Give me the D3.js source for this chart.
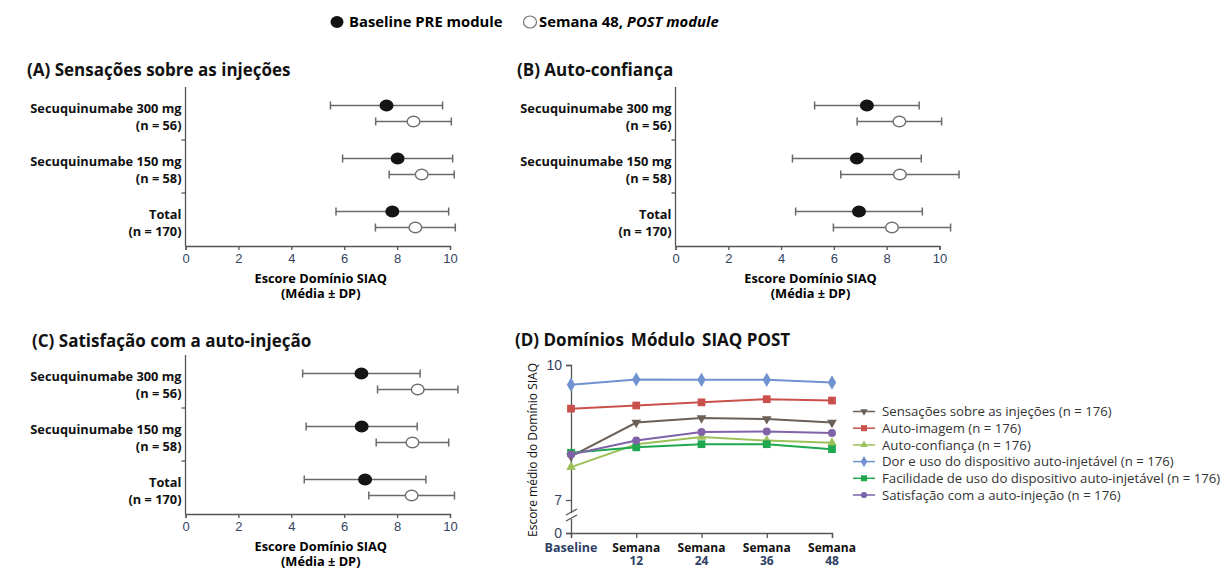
<!DOCTYPE html>
<html>
<head>
<meta charset="utf-8">
<script src="https://cdnjs.cloudflare.com/ajax/libs/d3/7.8.5/d3.min.js"></script>
<style>
    body { margin: 0; background: #fff; }
    svg { display: block; font-family: "Open Sans", Lato, sans-serif; }
    .ptitle { font-size: 17px; font-weight: bold; fill: #111; }
    .glabel { font-size: 12.8px; font-weight: bold; fill: #111; }
    .tick text { font-family: "Liberation Sans", Arial, sans-serif; font-size: 13px; fill: #34435f; }
    .domain, .tick line { stroke: #555; stroke-width: 1.3; }
</style>
</head>
<body>
<div id="chart"></div>
<script>
'use strict';
//row labels shared by panels A-C
const groups = ["Secuquinumabe 300 mg", "Secuquinumabe 150 mg", "Total"];
const groupN = ["(n = 56)", "(n = 58)", "(n = 170)"];
const xTicks = [0, 2, 4, 6, 8, 10];

//panel A - Sensações sobre as injeções (mean and SD)
const aPreMean = [7.6, 8.02, 7.82];
const aPreSd = [2.12, 2.08, 2.13];
const aPostMean = [8.62, 8.93, 8.69];
const aPostSd = [1.43, 1.23, 1.51];
//panel B - Auto-confiança
const bPreMean = [7.25, 6.87, 6.95];
const bPreSd = [1.98, 2.44, 2.4];
const bPostMean = [8.48, 8.5, 8.2];
const bPostSd = [1.6, 2.24, 2.22];
//panel C - Satisfação com a auto-injeção
const cPreMean = [6.65, 6.66, 6.79];
const cPreSd = [2.22, 2.1, 2.3];
const cPostMean = [8.78, 8.58, 8.55];
const cPostSd = [1.52, 1.37, 1.62];

//panel D - POST module domains over time
const visits = ["Baseline", "Semana 12", "Semana 24", "Semana 36", "Semana 48"];
const domainNames = [
    "Sensações sobre as injeções (n = 176)",
    "Auto-imagem (n = 176)",
    "Auto-confiança (n = 176)",
    "Dor e uso do dispositivo auto-injetável (n = 176)",
    "Facilidade de uso do dispositivo auto-injetável (n = 176)",
    "Satisfação com a auto-injeção (n = 176)"
];
const sensacoes = [7.97, 8.72, 8.82, 8.8, 8.72];
const autoImagem = [9.03, 9.1, 9.17, 9.24, 9.21];
const autoConfianca = [7.73, 8.24, 8.4, 8.32, 8.27];
const dorUso = [9.56, 9.68, 9.67, 9.67, 9.61];
const facilidade = [8.05, 8.17, 8.24, 8.24, 8.13];
const satisfacao = [8.01, 8.32, 8.51, 8.52, 8.49];
const dTicks = [0, 7, 10];

const width = 1232;
const height = 569;

const svg = d3.select("#chart").append("svg")
    .attr("width", width)
    .attr("height", height);

//legend at the top
svg.append("ellipse").attr("cx", 337).attr("cy", 22).attr("rx", 6.5).attr("ry", 6).attr("fill", "#111");
svg.append("text").attr("x", 349).attr("y", 22).attr("dy", "0.35em")
    .style("font-size", "14.8px").style("font-weight", "bold").text("Baseline PRE module");
svg.append("ellipse").attr("cx", 530).attr("cy", 22).attr("rx", 6.5).attr("ry", 6)
    .attr("fill", "#fff").attr("stroke", "#777").attr("stroke-width", 1.2);
const leg2 = svg.append("text").attr("x", 539).attr("y", 22).attr("dy", "0.35em")
    .style("font-size", "14.8px").style("font-weight", "bold");
leg2.append("tspan").text("Semana 48, ");
leg2.append("tspan").style("font-style", "italic").text("POST module");

//one forest-plot panel (mean ± SD for PRE and POST)
function forestPanel(o) {
    const x = d3.scaleLinear().domain([0, 10]).range([o.x0, o.x1]);
    const y = d3.scaleBand().domain(groups).range([o.y0, o.y1]);
    const g = svg.append("g");

    g.append("text").attr("class", "ptitle")
        .attr("x", o.titleX).attr("y", o.titleY).attr("dy", "0.35em")
        .text(o.title);

    //x axis at the bottom
    g.append("g")
        .attr("transform", "translate(0," + o.y1 + ")")
        .call(d3.axisBottom(x).tickValues(xTicks).tickSizeOuter(0).tickSize(4).tickPadding(4));

    //y axis is a plain line with ticks between the groups
    g.append("line")
        .attr("x1", o.x0).attr("x2", o.x0)
        .attr("y1", o.y0).attr("y2", o.y1)
        .attr("stroke", "#555").attr("stroke-width", 1.3);
    g.selectAll(".sep").data(groups.slice(1)).enter().append("line")
        .attr("x1", o.x0 - 4).attr("x2", o.x0)
        .attr("y1", d => y(d)).attr("y2", d => y(d))
        .attr("stroke", "#555").attr("stroke-width", 1.3);

    //row labels
    groups.forEach(function(name, i) {
        const cy = y(name) + y.bandwidth() / 2;
        g.append("text").attr("class", "glabel")
            .attr("x", o.x0 - 4).attr("y", cy - 5).attr("dy", "0.35em")
            .attr("text-anchor", "end").text(name);
        g.append("text").attr("class", "glabel")
            .attr("x", o.x0 - 4).attr("y", cy + 12.5).attr("dy", "0.35em")
            .attr("text-anchor", "end").text(groupN[i]);
    });

    //error bars and points
    const rows = [
        {mean: o.preMean, sd: o.preSd, off: -8, fill: "#151515", stroke: "#151515"},
        {mean: o.postMean, sd: o.postSd, off: 8, fill: "#fff", stroke: "#6f6f6f"}
    ];
    rows.forEach(function(r) {
        groups.forEach(function(name, i) {
            const cy = y(name) + y.bandwidth() / 2 + r.off;
            const lo = x(r.mean[i] - r.sd[i]);
            const hi = x(r.mean[i] + r.sd[i]);
            g.append("line").attr("x1", lo).attr("x2", hi).attr("y1", cy).attr("y2", cy)
                .attr("stroke", "#6a6a6a").attr("stroke-width", 1.5);
            [lo, hi].forEach(function(cx) {
                g.append("line").attr("x1", cx).attr("x2", cx).attr("y1", cy - 4).attr("y2", cy + 4)
                    .attr("stroke", "#6a6a6a").attr("stroke-width", 1.5);
            });
            g.append("ellipse")
                .attr("cx", x(r.mean[i])).attr("cy", cy)
                .attr("rx", 6.3).attr("ry", 5.3)
                .attr("fill", r.fill).attr("stroke", r.stroke).attr("stroke-width", 1.4);
        });
    });

    //axis title
    const mid = (o.x0 + o.x1) / 2 + 3;
    g.append("text").attr("x", mid).attr("y", o.y1 + 33).attr("dy", "0.35em")
        .attr("text-anchor", "middle").style("font-size", "12.8px").style("font-weight", "bold")
        .text("Escore Domínio SIAQ");
    g.append("text").attr("x", mid).attr("y", o.y1 + 48).attr("dy", "0.35em")
        .attr("text-anchor", "middle").style("font-size", "12.8px").style("font-weight", "bold")
        .text("(Média ± DP)");
}

forestPanel({title: "(A) Sensações sobre as injeções", titleX: 27, titleY: 70,
    x0: 185.5, x1: 450, y0: 87, y1: 246,
    preMean: aPreMean, preSd: aPreSd, postMean: aPostMean, postSd: aPostSd});
forestPanel({title: "(B) Auto-confiança", titleX: 517, titleY: 70,
    x0: 675.5, x1: 939.5, y0: 87, y1: 246,
    preMean: bPreMean, preSd: bPreSd, postMean: bPostMean, postSd: bPostSd});
forestPanel({title: "(C) Satisfação com a auto-injeção", titleX: 32, titleY: 341,
    x0: 185.5, x1: 450, y0: 355, y1: 514,
    preMean: cPreMean, preSd: cPreSd, postMean: cPostMean, postSd: cPostSd});

//panel D - line chart
const series = [
    {name: domainNames[0], values: sensacoes, color: "#6b6058", shape: d3.symbolTriangle, rot: 180, size: 40},
    {name: domainNames[1], values: autoImagem, color: "#c9504b", shape: d3.symbolSquare, rot: 0, size: 60},
    {name: domainNames[2], values: autoConfianca, color: "#9dc15a", shape: d3.symbolTriangle, rot: 0, size: 40},
    {name: domainNames[3], values: dorUso, color: "#7092d0", shape: d3.symbolDiamond, rot: 0, size: 60},
    {name: domainNames[4], values: facilidade, color: "#1fa84f", shape: d3.symbolSquare, rot: 0, size: 60},
    {name: domainNames[5], values: satisfacao, color: "#8062a8", shape: d3.symbolCircle, rot: 0, size: 50}
];

const xD = d3.scalePoint().domain(visits).range([571, 832]);
//broken axis: 0 sits just below 7
const yD = d3.scaleLinear().domain([0, 7, 10]).range([533, 500, 365]);
const gD = svg.append("g");

const titleD = gD.append("text").attr("class", "ptitle")
    .attr("x", 515).attr("y", 340).attr("dy", "0.35em");
titleD.append("tspan").text("(D) Domínios");
titleD.append("tspan").attr("dx", 7).text("Módulo");
titleD.append("tspan").attr("dx", 7).text("SIAQ POST");

//y axis with break marks
const yAxisD = gD.append("g")
    .attr("transform", "translate(571,0)")
    .call(d3.axisLeft(yD).tickValues(dTicks).tickSizeOuter(0).tickSize(5).tickPadding(4));
yAxisD.selectAll(".tick text").style("font-size", "14px");
gD.append("rect").attr("x", 566).attr("y", 513).attr("width", 10).attr("height", 6).attr("fill", "#fff");
[512, 518].forEach(function(by) {
    gD.append("line").attr("x1", 566).attr("x2", 577).attr("y1", by + 3).attr("y2", by - 3)
        .attr("stroke", "#555").attr("stroke-width", 1.3);
});

//x axis
gD.append("g")
    .attr("transform", "translate(0,533)")
    .call(d3.axisBottom(xD).tickSizeOuter(0).tickSize(5).tickFormat(""));
visits.forEach(function(v, i) {
    const parts = v.split(" ");
    const t = gD.append("text").attr("x", xD(v)).attr("y", 548).attr("dy", "0.35em")
        .attr("text-anchor", "middle").style("font-size", "12px").style("font-weight", "bold");
    if (i === 0) {
        t.attr("fill", "#2e3f66").style("font-size", "12.5px").text(v);
    } else {
        t.append("tspan").attr("fill", "#111").text(parts[0]);
        t.append("tspan").attr("x", xD(v)).attr("dy", "1.05em").attr("fill", "#2e3f66").text(parts[1]);
    }
});

//y axis title
gD.append("text")
    .attr("transform", "translate(533,450) rotate(-90)")
    .attr("text-anchor", "middle").attr("dy", "0.35em")
    .style("font-size", "12px").attr("fill", "#111")
    .text("Escore médio do Domínio SIAQ");

const drawLine = d3.line()
    .x((d, i) => xD(visits[i]))
    .y(d => yD(d));

series.forEach(function(s) {
    gD.append("path")
        .datum(s.values)
        .attr("fill", "none")
        .attr("stroke", s.color)
        .attr("stroke-width", 2)
        .attr("d", drawLine);
    gD.selectAll(null).data(s.values).enter().append("path")
        .attr("transform", (d, i) => "translate(" + xD(visits[i]) + "," + yD(d) + ") rotate(" + s.rot + ")")
        .attr("d", d3.symbol().type(s.shape).size(s.size))
        .attr("fill", s.color);
});

//legend for panel D
series.forEach(function(s, i) {
    const ly = 411.5 + i * 16.7;
    gD.append("line").attr("x1", 853).attr("x2", 875).attr("y1", ly).attr("y2", ly)
        .attr("stroke", s.color).attr("stroke-width", 1.5);
    gD.append("path")
        .attr("transform", "translate(864," + ly + ") rotate(" + s.rot + ")")
        .attr("d", d3.symbol().type(s.shape).size(s.size * 0.6))
        .attr("fill", s.color);
    gD.append("text").attr("x", 882).attr("y", ly).attr("dy", "0.35em")
        .style("font-size", "13.2px").attr("fill", "#333")
        .text(s.name);
});
</script>
</body>
</html>
